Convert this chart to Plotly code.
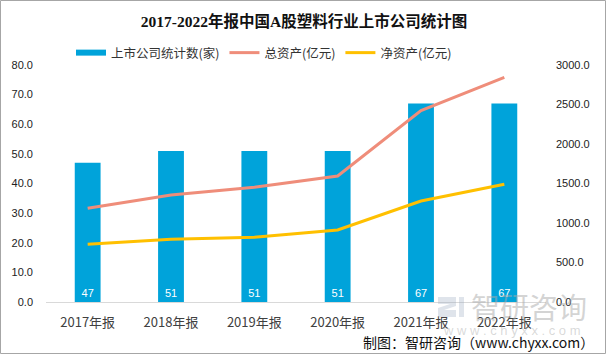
import plotly.graph_objects as go

categories = ["2017年报", "2018年报", "2019年报", "2020年报", "2021年报", "2022年报"]
company_counts = [47, 51, 51, 51, 67, 67]
total_assets = [1186, 1354, 1452, 1595, 2422, 2844]
net_assets = [730, 794, 819, 911, 1278, 1490]
left_ticks = [0, 10, 20, 30, 40, 50, 60, 70, 80]
right_ticks = [0, 500, 1000, 1500, 2000, 2500, 3000]

BLUE = "#00A3DA"
SALMON = "#EF8D7A"
GOLD = "#FFC000"
CJK = "Noto Sans CJK SC"

W, H = 608, 356
ML, MR, MT, MB = 46, 62, 65, 54
PW, PH = W - ML - MR, H - MT - MB

def px_x(x):
    return (x - ML) / PW

def px_y(y):
    return (H - MB - y) / PH

fig = go.Figure()

fig.add_trace(go.Bar(
    x=categories, y=company_counts, name="上市公司统计数(家)",
    marker=dict(color=BLUE, line=dict(width=0)),
    text=[str(v) for v in company_counts], textposition="inside",
    insidetextanchor="start", textangle=0,
    textfont=dict(color="white", size=11, family="Liberation Sans"),
    showlegend=False, yaxis="y",
))
# legend proxy for bar series
fig.add_trace(go.Scatter(
    x=[None], y=[None], mode="lines", name="上市公司统计数(家)",
    line=dict(color=BLUE, width=6), yaxis="y",
))
fig.add_trace(go.Scatter(
    x=categories, y=total_assets, name="总资产(亿元)", mode="lines",
    line=dict(color=SALMON, width=3), yaxis="y2",
))
fig.add_trace(go.Scatter(
    x=categories, y=net_assets, name="净资产(亿元)", mode="lines",
    line=dict(color=GOLD, width=3), yaxis="y2",
))

fig.update_layout(
    width=W, height=H,
    margin=dict(l=ML, r=MR, t=MT, b=MB, pad=0),
    paper_bgcolor="white", plot_bgcolor="white",
    bargap=0.69,
    title=dict(
        text="<b>2017-2022年报中国A股塑料行业上市公司统计图</b>",
        x=0.5, xanchor="center", y=1 - 22 / H, yanchor="middle",
        font=dict(family="Liberation Serif, " + CJK, size=15.5, color="#111111"),
    ),
    legend=dict(
        orientation="h", x=px_x(71), xanchor="left", y=px_y(53), yanchor="middle",
        font=dict(family=CJK, size=12.5, color="#333333"),
        bgcolor="rgba(0,0,0,0)", itemwidth=30, tracegroupgap=0,
    ),
    xaxis=dict(
        showline=True, linecolor="#D9D9D9", linewidth=1,
        showgrid=False, ticks="", ticklabelstandoff=8,
        tickfont=dict(family=CJK, size=13, color="#404040"),
        zeroline=False,
    ),
    yaxis=dict(
        range=[0, 80], tickvals=left_ticks, tickformat=".1f",
        showgrid=False, zeroline=False, showline=False, ticks="",
        ticklabelstandoff=12,
        tickfont=dict(family="Liberation Sans", size=11, color="#222222"),
    ),
    yaxis2=dict(
        range=[0, 3000], tickvals=right_ticks, tickformat=".1f",
        overlaying="y", side="right",
        showgrid=False, zeroline=False, showline=False, ticks="",
        ticklabelstandoff=9,
        tickfont=dict(family="Liberation Sans", size=11, color="#222222"),
    ),
)

# watermark
fig.add_annotation(
    text="智研咨询", xref="paper", yref="paper",
    x=px_x(529), y=px_y(306), xanchor="center", yanchor="middle",
    showarrow=False, font=dict(family=CJK, size=29, color="rgba(170,170,170,0.5)"),
)
fig.add_annotation(
    text="w w w . c h y x x . c o m", xref="paper", yref="paper",
    x=px_x(512), y=px_y(330), xanchor="center", yanchor="middle",
    showarrow=False, font=dict(family="Liberation Sans", size=13, color="rgba(170,170,170,0.45)"),
)
# watermark logo (approximate)
fig.add_shape(type="path", xref="paper", yref="paper",
              path=(f"M {px_x(438)},{px_y(297)} L {px_x(456)},{px_y(297)} L {px_x(456)},{px_y(306)} "
                    f"L {px_x(444)},{px_y(310)} L {px_x(456)},{px_y(310)} L {px_x(456)},{px_y(317)} "
                    f"L {px_x(438)},{px_y(317)} L {px_x(438)},{px_y(308)} L {px_x(450)},{px_y(304)} "
                    f"L {px_x(438)},{px_y(304)} Z"),
              fillcolor="rgba(150,165,190,0.3)", line=dict(width=0), layer="above")
fig.add_shape(type="rect", xref="paper", yref="paper",
              x0=px_x(459), x1=px_x(464), y0=px_y(317), y1=px_y(297),
              fillcolor="rgba(150,165,190,0.3)", line=dict(width=0), layer="above")

# source note
fig.add_annotation(
    text="制图：智研咨询（www.chyxx.com）", xref="paper", yref="paper",
    x=px_x(596), y=px_y(342), xanchor="right", yanchor="middle",
    showarrow=False, font=dict(family=CJK, size=14, color="#111111"),
)

# outer border
fig.add_shape(type="rect", xref="paper", yref="paper",
              x0=px_x(0.5), x1=px_x(605.5), y0=px_y(353.5), y1=px_y(0.5),
              line=dict(color="#A6A6A6", width=1), fillcolor="rgba(0,0,0,0)", layer="below")

fig.write_html("out.html",
               config={"displayModeBar": False},
               post_script="document.body.style.margin='0px';document.body.style.overflow='hidden';")
